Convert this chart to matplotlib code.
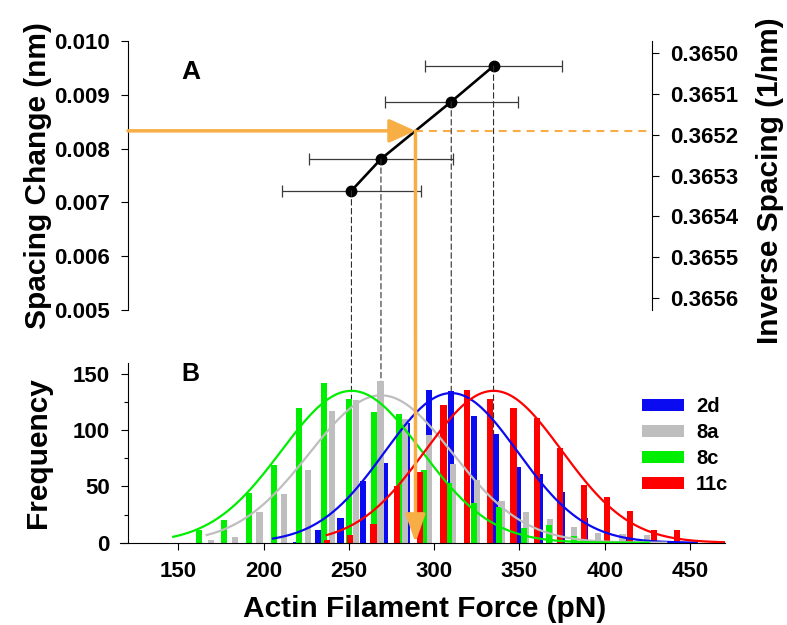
import numpy as np
import matplotlib
matplotlib.use('Agg')
import matplotlib.pyplot as plt
from matplotlib.patches import ConnectionPatch
from matplotlib.ticker import FormatStrFormatter

plt.rcParams['font.family'] = ['Liberation Sans', 'DejaVu Sans']
plt.rcParams['font.weight'] = 'bold'

# ---------------- data ----------------
series = ['2d', '8a', '8c', '11c']
colors = ['#0B0BF2', '#BEBEBE', '#00EE00', '#FF0000']

# histogram bars: force (pN) and frequency
force_2d = [206.1, 219.1, 232.1, 245.1, 258.1, 271.1, 284.1, 297.1, 310.1, 323.1,
            336.1, 349.1, 362.1, 375.1, 388.1, 401.1, 414.1, 427.1, 440.1]
freq_2d = [1, 1, 11, 22, 55, 71, 106, 136, 135, 113, 97, 67, 61, 45, 22, 19, 5, 2, 1]

force_8a = [169.2, 183.4, 197.6, 211.8, 226.0, 240.1, 254.3, 268.5, 282.7, 296.9,
            311.1, 325.3, 339.5, 353.7, 367.8, 382.0, 396.2, 410.4, 424.6]
freq_8a = [2, 5, 27, 43, 65, 117, 127, 144, 110, 96, 70, 56, 37, 27, 21, 14, 9, 8, 7]

force_8c = [162.3, 177.0, 191.6, 206.3, 220.9, 235.6, 250.2, 264.9, 279.5, 294.2,
            308.8, 323.5, 338.1, 352.8, 367.4, 382.1, 396.7]
freq_8c = [11, 20, 44, 69, 120, 142, 128, 116, 114, 65, 53, 35, 32, 13, 16, 6, 1]

force_11c = [237.0, 250.7, 264.4, 278.1, 291.8, 305.5, 319.1, 332.8, 346.5, 360.2,
             373.9, 387.6, 401.3, 415.0, 428.7, 442.4]
freq_11c = [2, 7, 17, 50, 63, 122, 136, 128, 120, 111, 84, 51, 41, 28, 11, 11]

bar_forces = [force_2d, force_8a, force_8c, force_11c]
bar_freqs = [freq_2d, freq_8a, freq_8c, freq_11c]

# Gaussian fits (mean, SD, amplitude, plotted range)
fit_mean = [310.0, 268.8, 251.5, 334.8]
fit_sd = [39, 42, 41, 40]
fit_amp = [133, 131, 135, 135]
fit_lo = [205.5, 166.6, 147.0, 237.0]
fit_hi = [454.0, 436.0, 426.0, 471.0]

# Panel A: spacing change at each mean force
spacing_change = [0.008872, 0.007807, 0.007218, 0.009535]
target_spacing = 0.00833

left_ticks = [0.005, 0.006, 0.007, 0.008, 0.009, 0.010]
inv_ticks = [0.3650, 0.3651, 0.3652, 0.3653, 0.3654, 0.3655, 0.3656]
x_ticks = [150, 200, 250, 300, 350, 400, 450]
y_ticks = [0, 50, 100, 150]
y_minor = [25, 75, 125]

orange = '#F7AE45'

# ---------------- figure ----------------
W, H = 787, 625
fig = plt.figure(figsize=(W / 100, H / 100), dpi=100)
ax_top = fig.add_axes([128 / W, 1 - 310 / H, (652 - 128) / W, (310 - 41) / H])
ax_bot = fig.add_axes([120 / W, 1 - 542.7 / H, (725 - 120) / W, 180 / H])

# ---- panel A ----
ax_top.set_xlim(120.5, 427.7)
ax_top.set_ylim(0.005, 0.010)
ax_top.set_yticks(left_ticks)
ax_top.yaxis.set_major_formatter(FormatStrFormatter('%.3f'))
ax_top.set_xticks([])
for s in ['top', 'bottom', 'right']:
    ax_top.spines[s].set_visible(False)
ax_top.spines['left'].set_linewidth(0.8)
ax_top.tick_params(axis='y', direction='out', length=5, width=0.8, pad=8, labelsize=16)

ax_r = ax_top.twinx()
ax_r.set_ylim(0.36563, 0.36497)
ax_r.set_yticks(inv_ticks)
ax_r.yaxis.set_major_formatter(FormatStrFormatter('%.4f'))
for s in ['top', 'bottom', 'left']:
    ax_r.spines[s].set_visible(False)
ax_r.spines['right'].set_linewidth(0.8)
ax_r.tick_params(axis='y', direction='out', length=5, width=0.8, pad=8, labelsize=16)

ax_top.errorbar(fit_mean, spacing_change, xerr=fit_sd, fmt='none', ecolor='#3a3a3a',
                elinewidth=0.9, capsize=4.5, capthick=0.9, zorder=2)
order = np.argsort(fit_mean)
ax_top.plot(np.array(fit_mean)[order], np.array(spacing_change)[order], color='black',
            lw=1.9, marker='o', ms=7.5, zorder=3)

# target force where the orange line crosses the calibration line
target_force = np.interp(target_spacing, np.array(spacing_change)[order], np.array(fit_mean)[order])
x0, x1 = ax_top.get_xlim()
ax_top.annotate('', xy=(target_force, target_spacing), xytext=(x0, target_spacing),
                arrowprops=dict(arrowstyle='-|>,head_length=0.8,head_width=0.36',
                                mutation_scale=20, color=orange, lw=2.5,
                                shrinkA=0, shrinkB=0), zorder=5)
ax_top.plot([target_force, x1], [target_spacing, target_spacing], color=orange, lw=1.5,
            ls=(0, (3.8, 2.9)), clip_on=False, zorder=4)

# ---- panel B ----
ax_bot.set_xlim(115.8, 470.5)
ax_bot.set_ylim(0, 160)
ax_bot.spines['left'].set_position(('data', 120.5))
for s in ['top', 'right']:
    ax_bot.spines[s].set_visible(False)
ax_bot.spines['left'].set_linewidth(0.8)
ax_bot.spines['bottom'].set_linewidth(0.8)
ax_bot.set_xticks(x_ticks)
ax_bot.set_yticks(y_ticks)
ax_bot.set_yticks(y_minor, minor=True)
ax_bot.tick_params(axis='both', which='major', direction='out', length=5, width=0.8,
                   pad=8, labelsize=16)
ax_bot.tick_params(axis='y', which='minor', direction='out', length=3, width=0.8)

for name, c, fx, fy in zip(series, colors, bar_forces, bar_freqs):
    ax_bot.bar(fx, fy, width=3.6, color=c, label=name, zorder=2)

for c, mu, sd, amp, lo, hi in zip(colors, fit_mean, fit_sd, fit_amp, fit_lo, fit_hi):
    xs = np.linspace(lo, hi, 300)
    ax_bot.plot(xs, amp * np.exp(-(xs - mu) ** 2 / (2 * sd ** 2)), color=c, lw=1.6, zorder=3)

# dashed connectors from panel A points down into panel B
for mu, sc in zip(fit_mean, spacing_change):
    con = ConnectionPatch(xyA=(mu, sc), coordsA=ax_top.transData,
                          xyB=(mu, 0), coordsB=ax_bot.transData,
                          color='#303030', lw=0.8, linestyle=(0, (5, 3)), zorder=1)
    con.set_clip_on(False)
    ax_bot.add_artist(con)

arrow = ConnectionPatch(xyA=(target_force, target_spacing), coordsA=ax_top.transData,
                        xyB=(target_force, 0), coordsB=ax_bot.transData,
                        arrowstyle='-|>,head_length=0.85,head_width=0.3', mutation_scale=20,
                        color=orange, lw=2.5, shrinkA=0, shrinkB=0, zorder=10)
arrow.set_clip_on(False)
ax_bot.add_artist(arrow)

ax_bot.legend(loc='upper left', bbox_to_anchor=(0.8623, 0.808), frameon=False,
              fontsize=14.5, handlelength=2.1, handleheight=0.55, labelspacing=0.35,
              handletextpad=0.6, borderpad=0, borderaxespad=0)

# ---- labels ----
fig.text(38 / W, 1 - 175.5 / H, 'Spacing Change (nm)', rotation=90, ha='center', va='center', fontsize=21.5)
fig.text(38 / W, 1 - 452.7 / H, 'Frequency', rotation=90, ha='center', va='center', fontsize=21.5)
fig.text(770 / W, 1 - 181 / H, 'Inverse Spacing (1/nm)', rotation=90, ha='center', va='center', fontsize=21.5)
fig.text(425 / W, 1 - 609 / H, 'Actin Filament Force (pN)', ha='center', va='center', fontsize=21.5)
fig.text(191 / W, 1 - 72 / H, 'A', ha='center', va='center', fontsize=19)
fig.text(190 / W, 1 - 374 / H, 'B', ha='center', va='center', fontsize=18)

fig.savefig('out.png', dpi=100)
